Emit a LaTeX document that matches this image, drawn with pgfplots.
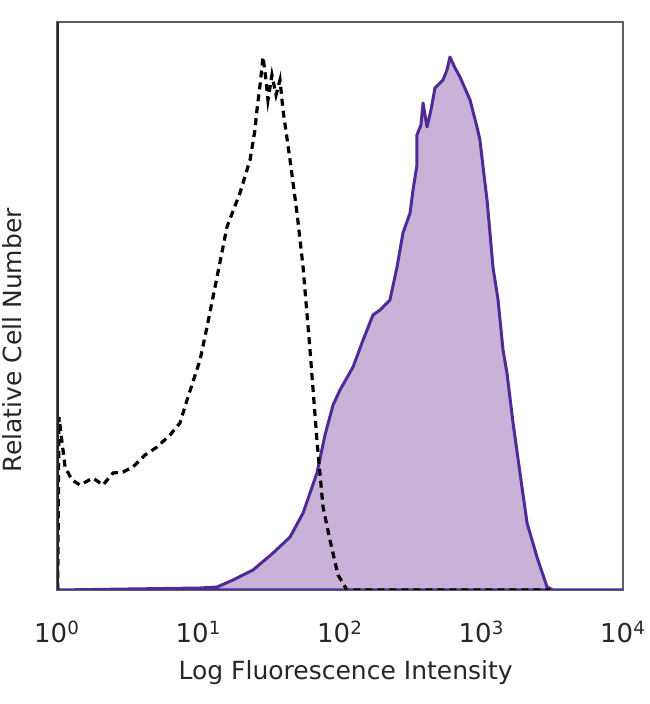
\documentclass[border=0pt]{standalone}
\usepackage{fontspec}
\setmainfont{DejaVu Sans}
\usepackage{pgfplots}
\pgfplotsset{compat=1.18}

\definecolor{purpfill}{RGB}{201,178,216}
\definecolor{purpline}{RGB}{78,44,152}
\definecolor{frame}{RGB}{95,95,95}

% x = log10 of fluorescence, y = relative count (pixels of the original plot)
\pgfplotstableread{
x y
0.000 0
1.011 2
1.131 3
1.244 10
1.385 20
1.527 37
1.647 53
1.739 77
1.837 117
1.894 155
1.951 185
2.000 200
2.092 223
2.163 250
2.233 275
2.283 280
2.353 290
2.403 323
2.445 357
2.495 377
2.516 400
2.544 425
2.544 455
2.572 465
2.587 487
2.615 463
2.643 480
2.671 502
2.728 510
2.756 520
2.777 533
2.813 522
2.848 513
2.919 490
2.968 463
2.989 450
3.011 423
3.039 390
3.060 357
3.081 323
3.117 290
3.152 240
3.180 217
3.223 167
3.272 117
3.322 67
3.392 33
3.463 3
3.505 0
4.000 0
}\stained

\pgfplotstableread{
x y
0.005 0
0.014 173
0.057 123
0.106 110
0.163 105
0.254 112
0.325 105
0.396 117
0.466 118
0.537 123
0.622 135
0.707 143
0.799 155
0.869 167
0.919 190
1.011 230
1.060 263
1.131 313
1.201 363
1.293 397
1.364 430
1.399 460
1.413 480
1.435 505
1.456 533
1.477 510
1.491 490
1.519 515
1.548 495
1.576 510
1.597 480
1.647 430
1.696 377
1.739 323
1.788 240
1.837 150
1.880 83
1.929 50
1.986 15
2.049 0
3.484 0
}\isotype

\begin{document}
\begin{tikzpicture}
\begin{axis}[
    scale only axis,
    width=283pt, height=284pt,
    xmin=0, xmax=4, ymin=0, ymax=568,
    xtick={0,1,2,3,4},
    xticklabels={10\textsuperscript{0},10\textsuperscript{1},10\textsuperscript{2},10\textsuperscript{3},10\textsuperscript{4}},
    ytick=\empty,
    major tick length=0pt,
    axis line style={draw=frame, line width=0.6pt},
    xticklabel style={anchor=center, yshift=-21pt, font=\fontsize{13}{15}\selectfont, text=black!85},
    xlabel={Log Fluorescence Intensity},
    ylabel={Relative Cell Number},
    every axis x label/.style={at={(0.51,-0.145)}, anchor=center, font=\fontsize{12.5}{15}\selectfont, text=black!85},
    every axis y label/.style={at={(-0.08,0.44)}, anchor=center, rotate=90, font=\fontsize{12.5}{15}\selectfont, text=black!85},
]
\addplot[fill=purpfill, draw=purpline, line width=1.5pt, line join=round] table[x=x,y=y] {\stained} \closedcycle;
\addplot[black, line width=1.6pt, dash pattern=on 3.5pt off 2.5pt] table[x=x,y=y] {\isotype};
\draw[line width=1.6pt, black!85] (rel axis cs:0,0) -- (rel axis cs:0,1);
\end{axis}
\pgfresetboundingbox
\useasboundingbox ([xshift=-28.5pt,yshift=-57pt]current axis.south west) rectangle ([xshift=13.5pt,yshift=11pt]current axis.north east);
\end{tikzpicture}
\end{document}
